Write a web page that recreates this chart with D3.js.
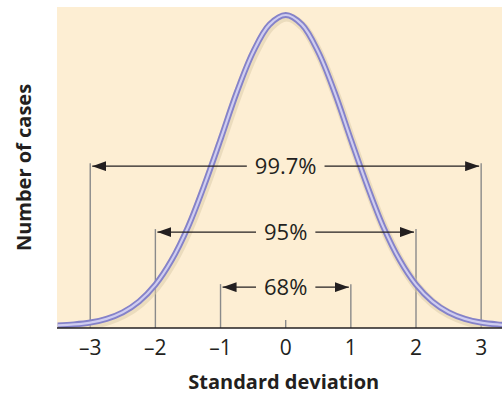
<!DOCTYPE html>
<html>
<head>
<meta charset="utf-8">
<script src="https://cdn.jsdelivr.net/npm/d3@7"></script>
<style>
  body { margin: 0; background: #fff; }
  svg text { font-family: "Open Sans", "Noto Sans", sans-serif; fill: #231f20; }
</style>
</head>
<body>
<svg id="chart" width="502" height="395"></svg>
<script>
// curve heights (relative to peak) at every 0.25 SD
const curveZ = [-3.5, -3.25, -3, -2.75, -2.5, -2.25, -2, -1.75, -1.5, -1.25, -1, -0.75, -0.5, -0.25,
                0, 0.25, 0.5, 0.75, 1, 1.25, 1.5, 1.75, 2, 2.25, 2.5, 2.75, 3, 3.25, 3.5];
const curveH = [0.002, 0.005, 0.011, 0.023, 0.044, 0.079, 0.133, 0.212, 0.318, 0.452, 0.600, 0.752, 0.881, 0.969,
                1, 0.969, 0.881, 0.752, 0.600, 0.452, 0.318, 0.212, 0.133, 0.079, 0.044, 0.023, 0.011, 0.005, 0.002];

const tickValues = [-3, -2, -1, 0, 1, 2, 3];
const tickLabels = ["\u20133", "\u20132", "\u20131", "0", "1", "2", "3"];

// the three brackets: how many SD each side, label, and height of the arrow (fraction of peak)
const bracketSD = [3, 2, 1];
const bracketLabels = ["99.7%", "95%", "68%"];
const bracketLevel = [0.514, 0.302, 0.125];

const xTitle = "Standard deviation";
const yTitle = "Number of cases";

const svg = d3.select("#chart");
const panel = {left: 57, top: 7, right: 502, bottom: 328};

const x = d3.scaleLinear().domain([-3.51, 3.32]).range([panel.left, panel.right]);
const y = d3.scaleLinear().domain([0, 1]).range([326, 15]);

const defs = svg.append("defs");
defs.append("marker")
    .attr("id", "arrow")
    .attr("viewBox", "0 0 14 10")
    .attr("refX", 14).attr("refY", 5)
    .attr("markerWidth", 14).attr("markerHeight", 10)
    .attr("markerUnits", "userSpaceOnUse")
    .attr("orient", "auto")
    .append("path").attr("d", "M0,0 L14,5 L0,10 Z").attr("fill", "#231f20");
defs.append("clipPath").attr("id", "panelClip")
    .append("rect")
    .attr("x", panel.left).attr("y", panel.top)
    .attr("width", panel.right - panel.left).attr("height", panel.bottom - panel.top);

svg.append("rect")
    .attr("x", panel.left).attr("y", panel.top)
    .attr("width", panel.right - panel.left).attr("height", panel.bottom - panel.top)
    .attr("fill", "#fdeed3");

// vertical guide lines at +-1, +-2, +-3
const guides = svg.append("g");
bracketSD.forEach((sd, i) => {
    [-sd, sd].forEach(v => {
        guides.append("line")
            .attr("x1", x(v)).attr("x2", x(v))
            .attr("y1", y(bracketLevel[i]) - 3).attr("y2", panel.bottom)
            .attr("stroke", "#8a8a8a").attr("stroke-width", 1.4);
    });
});
// small tick at 0
guides.append("line")
    .attr("x1", x(0)).attr("x2", x(0))
    .attr("y1", panel.bottom - 8).attr("y2", panel.bottom)
    .attr("stroke", "#8a8a8a").attr("stroke-width", 1.4);

// the curve
const pts = curveZ.map((z, i) => [z, curveH[i]]);
const line = d3.line().x(d => x(d[0])).y(d => y(d[1])).curve(d3.curveCatmullRom.alpha(0.5));
const curveG = svg.append("g").attr("clip-path", "url(#panelClip)");
curveG.append("path").attr("d", line(pts))
    .attr("fill", "none").attr("stroke", "#d9c9a8").attr("stroke-opacity", 0.5)
    .attr("stroke-width", 9).attr("transform", "translate(1,2)");
curveG.append("path").attr("d", line(pts))
    .attr("fill", "none").attr("stroke", "#8582c9").attr("stroke-width", 6);
curveG.append("path").attr("d", line(pts))
    .attr("fill", "none").attr("stroke", "#cfcdf0").attr("stroke-width", 2.2);

// baseline
svg.append("line")
    .attr("x1", panel.left).attr("x2", panel.right)
    .attr("y1", panel.bottom).attr("y2", panel.bottom)
    .attr("stroke", "#231f20").attr("stroke-width", 1.6);

// brackets with arrows and labels
const labelFont = 22;
bracketSD.forEach((sd, i) => {
    const yy = y(bracketLevel[i]);
    const t = svg.append("text")
        .attr("x", x(0)).attr("y", yy)
        .attr("dy", "0.35em")
        .attr("text-anchor", "middle")
        .attr("font-size", labelFont)
        .text(bracketLabels[i]);
    const w = t.node().getComputedTextLength();
    const gap = 8;
    svg.append("line")
        .attr("x1", x(0) - w / 2 - gap).attr("x2", x(-sd) + 2)
        .attr("y1", yy).attr("y2", yy)
        .attr("stroke", "#231f20").attr("stroke-width", 1.3)
        .attr("marker-end", "url(#arrow)");
    svg.append("line")
        .attr("x1", x(0) + w / 2 + gap).attr("x2", x(sd) - 2)
        .attr("y1", yy).attr("y2", yy)
        .attr("stroke", "#231f20").attr("stroke-width", 1.3)
        .attr("marker-end", "url(#arrow)");
});

// x tick labels
svg.append("g").selectAll("text")
    .data(tickValues)
    .join("text")
    .attr("x", d => x(d)).attr("y", 355)
    .attr("text-anchor", "middle")
    .attr("font-size", 21)
    .text((d, i) => tickLabels[i]);

// axis titles
svg.append("text")
    .attr("x", x(0) - 2).attr("y", 389)
    .attr("text-anchor", "middle")
    .attr("font-size", 20).attr("font-weight", "bold")
    .text(xTitle);

svg.append("text")
    .attr("transform", `translate(31,${(85 + 250) / 2}) rotate(-90)`)
    .attr("text-anchor", "middle")
    .attr("font-size", 20).attr("font-weight", "bold")
    .text(yTitle);
</script>
</body>
</html>
